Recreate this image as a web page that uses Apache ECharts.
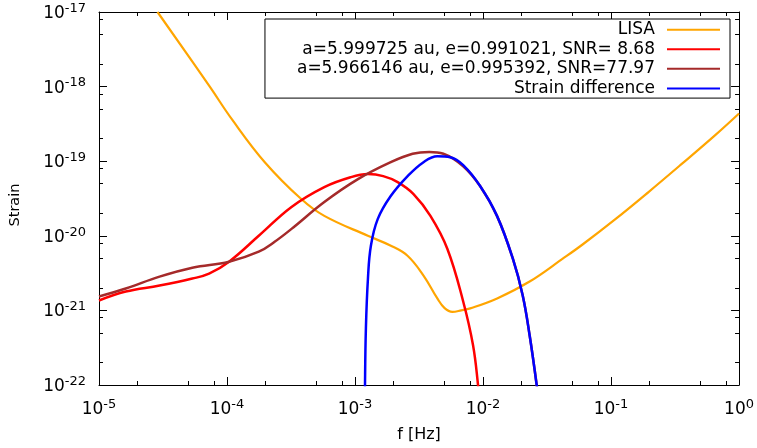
<!DOCTYPE html>
<html>
<head>
<meta charset="utf-8">
<script src="https://cdn.jsdelivr.net/npm/echarts@6/dist/echarts.min.js"></script>
<style>
  html, body { margin: 0; padding: 0; background: #fff; }
  #chart { width: 757px; height: 448px; }
</style>
</head>
<body>
<div id="chart"></div>
<script>
// all values are log10 exponents
const xDecades = [-5, -4, -3, -2, -1, 0]
const yDecades = [-22, -21, -20, -19, -18, -17]
const minorSteps = [2, 5, 8]

const lisaLogF = [-4.543, -4.14, -3.961, -3.705, -3.42, -3.24, -2.9, -2.72, -2.59, -2.465, -2.357, -2.3, -2.24, -2.17, -2.1, -1.89, -1.636, -1.38, -1.225, -0.961, -0.705, -0.45, -0.186, 0]
const lisaLogH = [-17.0, -17.987, -18.44, -19.013, -19.507, -19.733, -20.0, -20.133, -20.267, -20.533, -20.84, -20.97, -21.02, -21.0, -20.973, -20.84, -20.613, -20.31, -20.12, -19.77, -19.41, -19.04, -18.65, -18.36]

const lowSnrLogF = [-5.0, -4.791, -4.527, -4.271, -4.14, -3.984, -3.752, -3.496, -3.24, -3.031, -2.899, -2.78, -2.667, -2.543, -2.411, -2.279, -2.155, -2.078, -2.039, -2.03]
const lowSnrLogH = [-20.867, -20.747, -20.667, -20.573, -20.507, -20.347, -20.0, -19.613, -19.347, -19.213, -19.173, -19.2, -19.28, -19.44, -19.733, -20.173, -20.88, -21.467, -22.0, -22.2]

const highSnrLogF = [-5.0, -4.791, -4.527, -4.271, -3.984, -3.752, -3.628, -3.496, -3.24, -2.977, -2.721, -2.55, -2.42, -2.31, -2.155, -2.023, -1.891, -1.767, -1.69, -1.636, -1.581, -1.57]
const highSnrLogH = [-20.813, -20.707, -20.547, -20.427, -20.347, -20.213, -20.08, -19.907, -19.547, -19.24, -19.013, -18.9, -18.875, -18.9, -19.067, -19.333, -19.733, -20.307, -20.8, -21.333, -22.0, -22.2]

const diffLogF = [-2.923, -2.922, -2.915, -2.899, -2.876, -2.822, -2.721, -2.589, -2.465, -2.357, -2.256, -2.155, -2.023, -1.891, -1.767, -1.69, -1.636, -1.581, -1.57]
const diffLogH = [-22.4, -22.0, -21.24, -20.573, -20.133, -19.773, -19.467, -19.2, -19.013, -18.933, -18.947, -19.053, -19.333, -19.733, -20.307, -20.8, -21.333, -22.0, -22.2]

const names = ['LISA', 'a=5.999725 au, e=0.991021, SNR= 8.68', 'a=5.966146 au, e=0.995392, SNR=77.97', 'Strain difference']
const colors = ['#FFA500', '#FF0000', '#A52A2A', '#0000FF']

const font = 'DejaVu Sans'

const zip = (a, b) => a.map((v, i) => [v, b[i]])

function minorValues(decades) {
  const out = []
  for (let i = 0; i < decades.length - 1; i++) {
    minorSteps.forEach(m => out.push(decades[i] + Math.log10(m)))
  }
  return out
}

const rich = {
  b: { fontFamily: font, fontSize: 17, lineHeight: 20, verticalAlign: 'bottom', color: '#000' },
  s: { fontFamily: font, fontSize: 13, lineHeight: 13, verticalAlign: 'top', color: '#000' }
}

function axis(decades, position, minor, extra) {
  return Object.assign({
    type: 'value',
    position: position,
    min: decades[0],
    max: decades[decades.length - 1],
    interval: 1,
    axisLine: { show: !minor, onZero: false, lineStyle: { color: '#000', width: 1 } },
    axisTick: minor
      ? { show: true, inside: true, length: 4, customValues: minorValues(decades), lineStyle: { color: '#000' } }
      : { show: true, inside: true, length: 8, lineStyle: { color: '#000' } },
    axisLabel: { show: false },
    splitLine: { show: false }
  }, extra || {})
}

const tickLabel = {
  show: true,
  formatter: v => '{b|10}{s|' + v + '}',
  rich: rich
}

const chart = echarts.init(document.getElementById('chart'))

chart.setOption({
  animation: false,
  backgroundColor: '#fff',
  grid: { left: 96, right: 16, top: 12, bottom: 61 },
  legend: {
    orient: 'vertical',
    right: 27,
    top: 19,
    align: 'right',
    padding: [1, 10, 0, 32],
    itemWidth: 53,
    itemHeight: 2,
    itemGap: 0.3,
    icon: 'rect',
    selectedMode: false,
    backgroundColor: '#fff',
    borderColor: '#000',
    borderWidth: 1,
    borderRadius: 0,
    textStyle: { fontFamily: font, fontSize: 17, color: '#000', lineHeight: 19.3, padding: [0, 7, 0, 0] },
    data: names
  },
  xAxis: [
    axis(xDecades, 'bottom', false, {
      name: 'f [Hz]',
      nameLocation: 'middle',
      nameGap: 42,
      nameTextStyle: { fontFamily: font, fontSize: 16, color: '#000' },
      axisLabel: Object.assign({ margin: 13 }, tickLabel)
    }),
    axis(xDecades, 'bottom', true),
    axis(xDecades, 'top', false),
    axis(xDecades, 'top', true)
  ],
  yAxis: [
    axis(yDecades, 'left', false, {
      name: 'Strain',
      nameLocation: 'middle',
      nameGap: 76,
      nameTextStyle: { fontFamily: font, fontSize: 14.5, color: '#000', padding: [0, 13, 0, 0] },
      axisLabel: Object.assign({ margin: 13 }, tickLabel)
    }),
    axis(yDecades, 'left', true),
    axis(yDecades, 'right', false),
    axis(yDecades, 'right', true)
  ],
  series: [
    zip(lisaLogF, lisaLogH),
    zip(lowSnrLogF, lowSnrLogH),
    zip(highSnrLogF, highSnrLogH),
    zip(diffLogF, diffLogH)
  ].map((data, i) => ({
    name: names[i],
    type: 'line',
    data: data,
    showSymbol: false,
    smooth: 0.4,
    clip: true,
    color: colors[i],
    lineStyle: { width: i === 0 ? 2.2 : 2.5, color: colors[i] }
  }))
})
</script>
</body>
</html>
